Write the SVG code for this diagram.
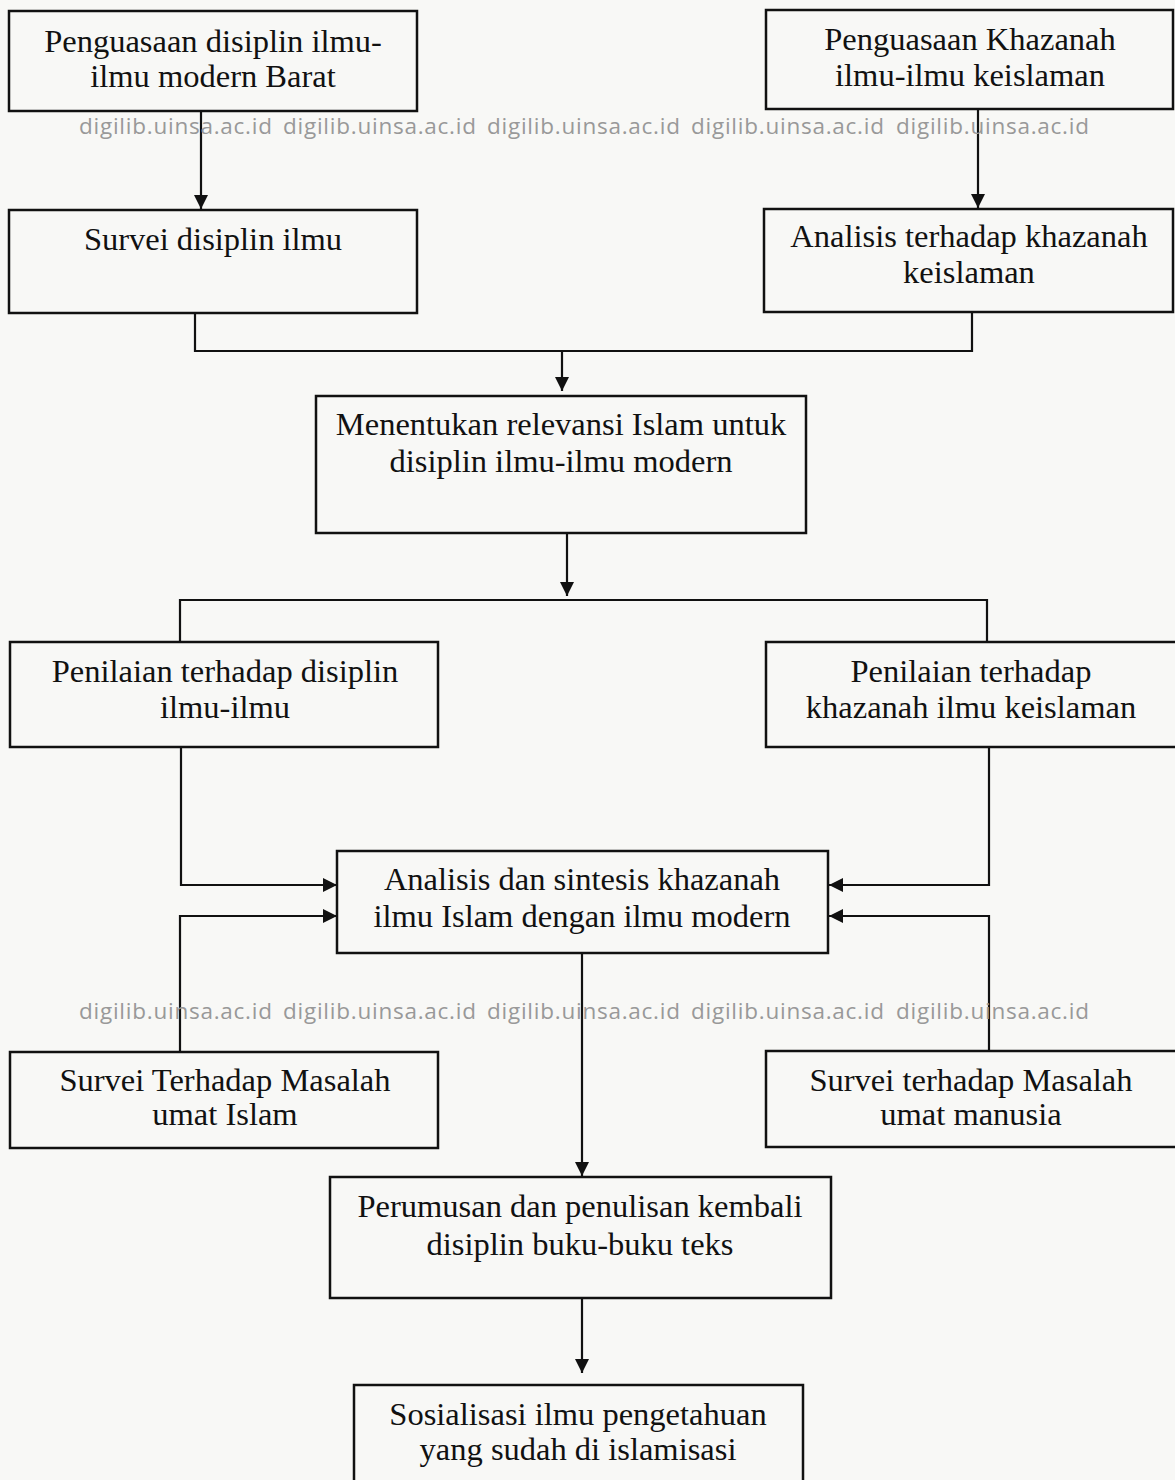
<svg xmlns="http://www.w3.org/2000/svg" width="1175" height="1480" viewBox="0 0 1175 1480">
<style>
.box{fill:none;stroke:#111;stroke-width:2.5}
.t{font-family:"Liberation Serif","Times New Roman",serif;font-size:32.5px;fill:#111;text-anchor:middle}
.wm{font-family:"Open Sans","DejaVu Sans",sans-serif;font-size:22.5px;fill:#999}
.c{fill:none;stroke:#111;stroke-width:2.2}
</style>
<defs>
<marker id="ah" markerUnits="userSpaceOnUse" markerWidth="15" markerHeight="15" refX="14" refY="7" orient="auto">
<path d="M0,0 L14,7 L0,14 z" fill="#111"/>
</marker>
</defs>
<rect width="1175" height="1480" fill="#f8f8f6"/>

<g id="connectors">
<path class="c" d="M201,111 V209" marker-end="url(#ah)"/>
<path class="c" d="M978,109 V208" marker-end="url(#ah)"/>
<path class="c" d="M195,313 V351 H972 V312"/>
<path class="c" d="M562,351 V391" marker-end="url(#ah)"/>
<path class="c" d="M567,533 V596" marker-end="url(#ah)"/>
<path class="c" d="M180,642 V600 H987 V642"/>
<path class="c" d="M181,747 V885 H337" marker-end="url(#ah)"/>
<path class="c" d="M989,747 V885 H829" marker-end="url(#ah)"/>
<path class="c" d="M180,1052 V916 H337" marker-end="url(#ah)"/>
<path class="c" d="M989,1051 V916 H829" marker-end="url(#ah)"/>
<path class="c" d="M582,953 V1176" marker-end="url(#ah)"/>
<path class="c" d="M582,1298 V1373" marker-end="url(#ah)"/>
</g>

<g id="n1"><rect class="box" x="9" y="11" width="408" height="100"/>
<text class="t" x="213" y="52">Penguasaan disiplin ilmu-</text>
<text class="t" x="213" y="87">ilmu modern Barat</text></g>

<g id="n2"><rect class="box" x="766" y="10" width="407" height="99"/>
<text class="t" x="970" y="50">Penguasaan Khazanah</text>
<text class="t" x="970" y="86">ilmu-ilmu keislaman</text></g>

<g id="n3"><rect class="box" x="9" y="210" width="408" height="103"/>
<text class="t" x="213" y="250">Survei disiplin ilmu</text></g>

<g id="n4"><rect class="box" x="764" y="209" width="409" height="103"/>
<text class="t" x="969" y="247">Analisis terhadap khazanah</text>
<text class="t" x="969" y="283">keislaman</text></g>

<g id="n5"><rect class="box" x="316" y="396" width="490" height="137"/>
<text class="t" x="561" y="435">Menentukan relevansi Islam untuk</text>
<text class="t" x="561" y="472">disiplin ilmu-ilmu modern</text></g>

<g id="n6"><rect class="box" x="10" y="642" width="428" height="105"/>
<text class="t" x="225" y="682">Penilaian terhadap disiplin</text>
<text class="t" x="225" y="718">ilmu-ilmu</text></g>

<g id="n7"><rect class="box" x="766" y="642" width="412" height="105"/>
<text class="t" x="971" y="682">Penilaian terhadap</text>
<text class="t" x="971" y="718">khazanah ilmu keislaman</text></g>

<g id="n8"><rect class="box" x="337" y="851" width="491" height="102"/>
<text class="t" x="582" y="890">Analisis dan sintesis khazanah</text>
<text class="t" x="582" y="927">ilmu Islam dengan ilmu modern</text></g>

<g id="n9"><rect class="box" x="10" y="1052" width="428" height="96"/>
<text class="t" x="225" y="1091">Survei Terhadap Masalah</text>
<text class="t" x="225" y="1125">umat Islam</text></g>

<g id="n10"><rect class="box" x="766" y="1051" width="412" height="96"/>
<text class="t" x="971" y="1091">Survei terhadap Masalah</text>
<text class="t" x="971" y="1125">umat manusia</text></g>

<g id="n11"><rect class="box" x="330" y="1177" width="501" height="121"/>
<text class="t" x="580" y="1217">Perumusan dan penulisan kembali</text>
<text class="t" x="580" y="1255">disiplin buku-buku teks</text></g>

<g id="n12"><rect class="box" x="354" y="1385" width="449" height="120"/>
<text class="t" x="578" y="1425">Sosialisasi ilmu pengetahuan</text>
<text class="t" x="578" y="1460">yang sudah di islamisasi</text></g>

<g id="watermark">
<text class="wm" x="79" y="134" textLength="193">digilib.uinsa.ac.id</text>
<text class="wm" x="283" y="134" textLength="193">digilib.uinsa.ac.id</text>
<text class="wm" x="487" y="134" textLength="193">digilib.uinsa.ac.id</text>
<text class="wm" x="691" y="134" textLength="193">digilib.uinsa.ac.id</text>
<text class="wm" x="896" y="134" textLength="193">digilib.uinsa.ac.id</text>
<text class="wm" x="79" y="1019" textLength="193">digilib.uinsa.ac.id</text>
<text class="wm" x="283" y="1019" textLength="193">digilib.uinsa.ac.id</text>
<text class="wm" x="487" y="1019" textLength="193">digilib.uinsa.ac.id</text>
<text class="wm" x="691" y="1019" textLength="193">digilib.uinsa.ac.id</text>
<text class="wm" x="896" y="1019" textLength="193">digilib.uinsa.ac.id</text>
</g>
</svg>
